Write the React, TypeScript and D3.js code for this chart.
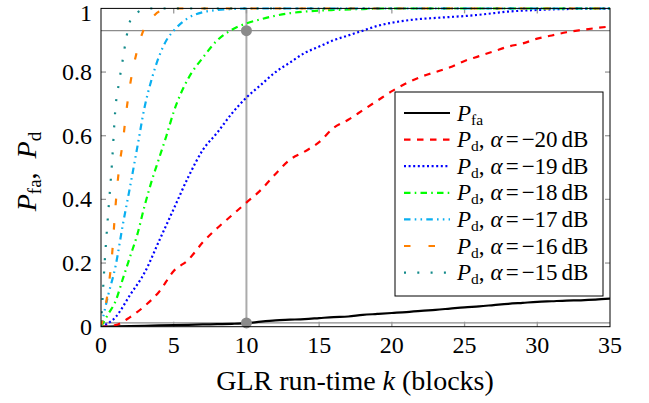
import React from "react";
import * as d3 from "d3";

// ---- data ----
const kPfa = [0,1,2,3,4,5,6,7,8,9,10,11,12,13,14,15,16,17,18,19,20,21,22,23,24,25,26,27,28,29,30,31,32,33,34,35];
const pFa = [0,0.001,0.002,0.003,0.004,0.005,0.006,0.007,0.008,0.009,0.011,0.016,0.02,0.022,0.024,0.027,0.03,0.032,0.037,0.04,0.043,0.046,0.05,0.053,0.057,0.061,0.064,0.068,0.072,0.075,0.078,0.08,0.082,0.083,0.085,0.088];

const k20 = kPfa;
const pD20 = [0,0.005,0.03,0.065,0.11,0.175,0.21,0.265,0.31,0.35,0.39,0.43,0.48,0.525,0.55,0.58,0.625,0.65,0.68,0.71,0.74,0.765,0.785,0.8,0.815,0.835,0.85,0.865,0.88,0.89,0.905,0.915,0.925,0.932,0.938,0.943];

const k19 = kPfa;
const pD19 = [0,0.03,0.1,0.17,0.27,0.37,0.47,0.555,0.61,0.67,0.72,0.76,0.8,0.83,0.86,0.88,0.9,0.915,0.93,0.945,0.955,0.962,0.967,0.97,0.973,0.976,0.98,0.985,0.99,0.993,0.995,0.997,0.998,0.999,0.999,1];

const k18 = [0,0.5,1,1.5,2,2.5,3,3.5,4,4.5,5,6,7,8,9,10,11,12,13,14,15,16,18,20,35];
const pD18 = [0,0.04,0.08,0.15,0.22,0.29,0.38,0.46,0.53,0.6,0.675,0.78,0.845,0.9,0.933,0.953,0.966,0.977,0.985,0.99,0.993,0.995,0.998,1,1];

const k17 = [0,0.5,1,1.5,2,2.5,3,3.5,4,4.5,5,6,7,8,9,10,35];
const pD17 = [0,0.1,0.19,0.32,0.44,0.565,0.69,0.78,0.85,0.9,0.93,0.97,0.988,0.995,0.998,1,1];

const k16 = [0,0.25,0.5,0.75,1,1.25,1.5,1.75,2,2.5,3,3.5,4,5,35];
const pD16 = [0,0.05,0.12,0.22,0.38,0.5,0.58,0.68,0.76,0.87,0.94,0.97,0.99,1,1];

const k15 = [0,0.25,0.5,0.75,1,1.25,1.5,1.75,2,2.5,3,3.5,35];
const pD15 = [0,0.2,0.36,0.51,0.69,0.77,0.84,0.91,0.96,0.987,0.997,1,1];

const xTicks = [0,5,10,15,20,25,30,35];
const yTicks = [0,0.2,0.4,0.6,0.8,1];
const yTickLabels = ["0","0.2","0.4","0.6","0.8","1"];
const alphaLabels = ["\u221220","\u221219","\u221218","\u221217","\u221216","\u221215"];
const markerK = 10;
const markerPd = 0.93;
const markerPfa = 0.012;

const FONT = "'Liberation Serif', 'DejaVu Serif', serif";

type Series = { k: number[]; p: number[]; color: string; dash: string | null; width: number };

const series: Series[] = [
  { k: kPfa, p: pFa, color: "#000000", dash: null, width: 2.2 },
  { k: k20, p: pD20, color: "#ff0000", dash: "6.5 6.5", width: 2.2 },
  { k: k19, p: pD19, color: "#0000ff", dash: "2 2.6", width: 2.2 },
  { k: k18, p: pD18, color: "#00ff00", dash: "6.5 4.2 1.6 4.2", width: 2.2 },
  { k: k17, p: pD17, color: "#0aaff0", dash: "6.5 4.2 1.6 4.2 1.6 4.2", width: 2.2 },
  { k: k16, p: pD16, color: "#ff8000", dash: "6.5 18", width: 2.2 },
  { k: k15, p: pD15, color: "#138a8a", dash: "2 11.3", width: 2.2 },
];

export default function App() {
  const L = 101, R = 610, T = 8.4, B = 326.7;
  const x = d3.scaleLinear().domain([0, 35]).range([L, R]);
  const y = d3.scaleLinear().domain([0, 1]).range([B, T]);
  const line = (s: Series) =>
    d3.line<number>().x((_, i) => x(s.k[i])).y((d) => y(d)).curve(d3.curveMonotoneX)(s.p) || "";

  const tickLen = 5;
  const grey = "#9a9a9a";

  const legX = 395, legY = 92, legW = 208, legH = 204;
  const rowY0 = 113, rowDy = 26.6;

  return (
    <svg width={649} height={403} style={{ position: "absolute", left: 0, top: 0, background: "#fff" }}
      fontFamily={FONT}>
      <defs>
        <clipPath id="plotclip">
          <rect x={L} y={T - 1.2} width={R - L} height={B - T + 1.2} />
        </clipPath>
      </defs>
      <rect x={0} y={0} width={649} height={403} fill="#fff" />
      {/* reference lines */}
      <line x1={L} x2={R} y1={y(markerPd)} y2={y(markerPd)} stroke="#8c8c8c" strokeWidth={1.3} />
      <line x1={L} x2={R} y1={y(markerPfa)} y2={y(markerPfa)} stroke="#8c8c8c" strokeWidth={1.3} />
      <line x1={x(markerK)} x2={x(markerK)} y1={y(0)} y2={y(1)} stroke="#ababab" strokeWidth={2} />
      {/* ticks */}
      {xTicks.slice(1, -1).map((t) => (
        <g key={"xt" + t}>
          <line x1={x(t)} x2={x(t)} y1={B} y2={B - tickLen} stroke={grey} strokeWidth={1.3} />
          <line x1={x(t)} x2={x(t)} y1={T} y2={T + tickLen} stroke={grey} strokeWidth={1.3} />
        </g>
      ))}
      {yTicks.slice(1, -1).map((t) => (
        <g key={"yt" + t}>
          <line x1={L} x2={L + tickLen} y1={y(t)} y2={y(t)} stroke={grey} strokeWidth={1.3} />
          <line x1={R} x2={R - tickLen} y1={y(t)} y2={y(t)} stroke={grey} strokeWidth={1.3} />
        </g>
      ))}
      {/* curves */}
      <g clipPath="url(#plotclip)">
        {series.map((s, i) => (
          <path key={i} d={line(s)} fill="none" stroke={s.color} strokeWidth={s.width}
            strokeDasharray={s.dash ?? undefined} strokeLinejoin="round" />
        ))}
      </g>
      {/* markers */}
      <circle cx={x(markerK)} cy={y(markerPd)} r={5.5} fill="#8a8a8a" />
      <circle cx={x(markerK)} cy={y(markerPfa)} r={5.5} fill="#8a8a8a" />
      {/* frame */}
      <rect x={L} y={T} width={R - L} height={B - T} fill="none" stroke="#000" strokeWidth={1} />
      {/* tick labels */}
      {xTicks.map((t) => (
        <text key={"xl" + t} x={x(t)} y={353} textAnchor="middle" fontSize={24}>{t}</text>
      ))}
      {yTicks.map((t, i) => (
        <text key={"yl" + t} x={92} y={Math.max(y(t) + 8, 20.5)} textAnchor="end" fontSize={24}>{yTickLabels[i]}</text>
      ))}
      {/* axis labels */}
      <text x={355} y={390} textAnchor="middle" fontSize={28}>
        GLR run-time <tspan fontStyle="italic">k</tspan> (blocks)
      </text>
      <text transform={`translate(36,${(T + B) / 2 + 4}) rotate(-90)`} textAnchor="middle" fontSize={28}>
        <tspan fontStyle="italic">P</tspan>
        <tspan fontSize={19} dy={5}>fa</tspan>
        <tspan dy={-5}>,</tspan>
        <tspan fontStyle="italic" dx={14}>P</tspan>
        <tspan fontSize={19} dy={5}>d</tspan>
      </text>
      {/* legend */}
      <rect x={legX} y={legY} width={legW} height={legH} fill="#fff" stroke="#000" strokeWidth={1} />
      {series.map((s, i) => {
        const ry = rowY0 + i * rowDy;
        return (
          <g key={"lg" + i}>
            <line x1={404} x2={450} y1={ry} y2={ry} stroke={s.color} strokeWidth={s.width}
              strokeDasharray={s.dash ?? undefined} />
            <text x={457} y={ry + 7.5} fontSize={23}>
              <tspan fontStyle="italic">P</tspan>
              {i === 0 ? (
                <tspan fontSize={15.5} dy={4}>fa</tspan>
              ) : (
                <>
                  <tspan fontSize={15.5} dy={4}>d</tspan>
                  <tspan dy={-4}>,</tspan>
                  <tspan fontStyle="italic" dx={6}>α</tspan>
                  <tspan dx={3}>=</tspan>
                  <tspan dx={3}>{alphaLabels[i - 1]}</tspan>
                  <tspan dx={4}>dB</tspan>
                </>
              )}
            </text>
          </g>
        );
      })}
    </svg>
  );
}
